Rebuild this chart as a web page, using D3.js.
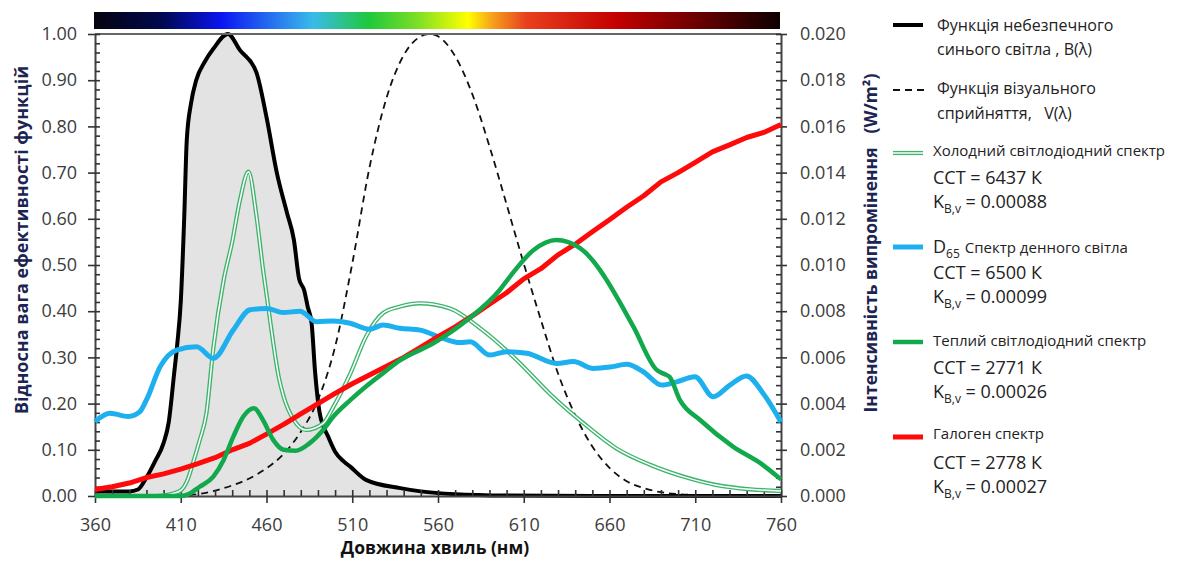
<!DOCTYPE html>
<html><head><meta charset="utf-8">
<script src="https://cdn.jsdelivr.net/npm/d3@7"></script>
<style>
html,body{margin:0;padding:0;background:#fff;}
svg{display:block;font-family:"Open Sans",sans-serif;}
</style></head>
<body>
<svg id="chart" width="1187" height="561"></svg>
<script>
// ---------- DATA ----------
// Blue-light hazard function B(λ), relative (left axis)
const hazardB = [[360,0.01],[380,0.01],[385,0.014],[390,0.04],[395,0.075],[400,0.115],[403,0.16],[406,0.26],[408,0.33],[410,0.42],[412,0.6],[413.5,0.77],[416,0.85],[419,0.9],[424,0.94],[429,0.968],[437.5,1.0],[444.5,0.965],[454,0.918],[460,0.82],[466,0.70],[472,0.612],[476,0.554],[479,0.47],[482,0.445],[484,0.41],[486.3,0.374],[488.3,0.27],[491,0.18],[496,0.128],[500,0.096],[505,0.075],[509,0.063],[518,0.035],[538,0.017],[550,0.01],[570,0.004],[600,0.001],[650,0],[760,0]];
// Photopic visual function V(λ), relative (left axis)
const visualV = [[380,0.00004],[390,0.00012],[400,0.0004],[410,0.0012],[420,0.004],[430,0.0116],[440,0.023],[450,0.038],[460,0.06],[470,0.091],[480,0.139],[490,0.208],[500,0.323],[510,0.503],[520,0.71],[530,0.862],[540,0.954],[550,0.995],[555,1.0],[560,0.995],[570,0.952],[580,0.87],[590,0.757],[600,0.631],[610,0.503],[620,0.381],[630,0.265],[640,0.175],[650,0.107],[660,0.061],[670,0.032],[680,0.017],[690,0.0082],[700,0.0041],[710,0.0021],[720,0.00105],[730,0.00052],[740,0.00025],[750,0.00012],[760,0.00006]];
// Spectra, W/m² (right axis)
const coldLED = [[360,0],[395,0],[405,0.0001],[410,0.00024],[414,0.0007],[417,0.0014],[421,0.0024],[425,0.0036],[429,0.0064],[435,0.00934],[440,0.011],[444.5,0.0128],[449.5,0.01404],[454,0.0122],[458,0.0098],[461,0.0082],[464,0.0066],[467,0.0052],[470,0.0043],[476,0.00328],[483,0.00286],[493,0.00314],[499,0.00386],[509,0.00532],[518,0.0069],[528,0.00792],[538,0.0082],[549,0.00834],[567,0.00812],[586,0.00718],[606,0.00588],[625,0.00444],[645,0.00314],[664,0.00206],[684,0.00134],[703,0.00084],[722,0.00048],[742,0.00029],[760,0.00022]];
const daylightD65 = [[360,0.00322],[368.7,0.00358],[379.4,0.00344],[386,0.00364],[390,0.00416],[398,0.0056],[407.6,0.00632],[419.3,0.00646],[429,0.00596],[440.6,0.00718],[450.4,0.00806],[460,0.00812],[469.8,0.00794],[479.5,0.008],[489.3,0.00754],[499,0.00758],[508.7,0.00748],[520,0.00722],[528,0.0074],[537.8,0.00726],[549.5,0.00718],[563,0.00682],[572.8,0.00664],[578.7,0.00668],[590.3,0.0061],[600,0.00624],[611.7,0.00618],[629.2,0.00574],[639,0.00582],[650.6,0.00552],[660.3,0.00558],[670,0.0057],[679.7,0.00538],[690.4,0.0048],[699.1,0.00494],[709.8,0.00516],[720.5,0.0043],[730.2,0.0048],[739.9,0.0052],[749.6,0.00444],[760,0.0032]];
const warmLED = [[360,0],[410,0],[415,0.0001],[421,0.0004],[429,0.00084],[435,0.00156],[440.6,0.00256],[446.5,0.00344],[452.7,0.0038],[458,0.00328],[464,0.00242],[470,0.002],[477,0.00196],[485,0.00228],[493,0.00286],[499,0.00344],[509,0.00416],[518,0.00474],[528,0.00532],[538,0.00588],[557,0.0066],[577,0.00762],[596,0.00892],[602,0.0095],[615.6,0.01064],[629,0.01108],[643,0.01072],[654.5,0.00978],[658.4,0.00934],[674,0.00732],[687.5,0.00546],[692,0.00528],[695,0.00516],[701,0.00416],[713,0.00328],[732,0.00214],[748,0.00142],[760,0.00072]];
const halogen = [[360,0.00028],[370,0.0004],[380,0.00056],[390,0.0008],[400,0.00096],[410,0.00116],[420,0.0014],[430,0.00166],[440,0.002],[450,0.00228],[460,0.00268],[470,0.0031],[480,0.00356],[490,0.004],[500,0.00444],[510,0.00486],[520,0.00524],[530,0.00562],[540,0.006],[550,0.00644],[560,0.0069],[570,0.00732],[580,0.0078],[590,0.0083],[600,0.0088],[610,0.0094],[620,0.00984],[630,0.01044],[640,0.0109],[650,0.01144],[660,0.01196],[670,0.0125],[680,0.013],[690,0.0136],[700,0.014],[710,0.01444],[720,0.0149],[730,0.0152],[740,0.01552],[750,0.01574],[760,0.01608]];

const xTickValues = [360,410,460,510,560,610,660,710,760];
const leftTickValues = [0,0.1,0.2,0.3,0.4,0.5,0.6,0.7,0.8,0.9,1.0];
const rightTickValues = [0,0.002,0.004,0.006,0.008,0.010,0.012,0.014,0.016,0.018,0.020];

const xTitle = "Довжина хвиль (нм)";
const leftTitle = "Відносна вага ефективності функцій";
const rightTitleMain = "Інтенсивність випромінення";
const rightTitleUnit = "(W/m²)";

const legendNames = ["Холодний світлодіодний спектр","Спектр денного світла","Теплий світлодіодний спектр","Галоген спектр"];
const legendCCT = ["6437","6500","2771","2778"];
const legendK = ["0.00088","0.00099","0.00026","0.00027"];

// ---------- LAYOUT ----------
const L = 95, R = 781, T = 34, B = 496;
const svg = d3.select("#chart");
const x = d3.scaleLinear().domain([360,760]).range([L,R]);
const yL = d3.scaleLinear().domain([0,1]).range([B,T]);
const yR = d3.scaleLinear().domain([0,0.02]).range([B,T]);

// colour bar
const defs = svg.append("defs");
const grad = defs.append("linearGradient").attr("id","spec").attr("x1","0%").attr("x2","100%");
[[0,"#05040f"],[0.1,"#000850"],[0.185,"#0a14f0"],[0.27,"#2a7ef0"],[0.32,"#38bce8"],[0.4,"#1ec83c"],[0.47,"#7ade26"],[0.545,"#ffff00"],[0.58,"#f6a21c"],[0.63,"#e8401e"],[0.76,"#c40000"],[0.88,"#6a0000"],[1,"#0c0000"]]
  .forEach(s=>grad.append("stop").attr("offset",s[0]).attr("stop-color",s[1]));
svg.append("rect").attr("x",x(360)-1).attr("y",12).attr("width",x(760)-x(360)).attr("height",17).attr("fill","url(#spec)");

// fill under B
const g = svg.append("g");
g.append("path").datum(hazardB)
  .attr("d",d3.area().x(d=>x(d[0])).y0(yL(0)).y1(d=>yL(d[1])).curve(d3.curveMonotoneX))
  .attr("fill","#e3e3e3");

// top border
svg.append("line").attr("x1",L).attr("x2",R).attr("y1",T).attr("y2",T).attr("stroke","#666").attr("stroke-width",2);

// axes
const tickFont = g2=>g2.selectAll("text").attr("font-family","Open Sans").attr("font-size",18).attr("fill","#3c3c3c");
const axL = svg.append("g").attr("transform",`translate(${L},0)`)
  .call(d3.axisLeft(yL).tickValues(leftTickValues).tickFormat(d3.format(".2f")).tickSizeInner(7).tickSizeOuter(0).tickPadding(11));
axL.call(tickFont);
svg.append("g").attr("transform",`translate(${L},0)`)
  .call(d3.axisLeft(yL).tickValues(d3.range(0,1.0001,0.02)).tickFormat("").tickSizeInner(-5).tickSizeOuter(0))
  .select(".domain").remove();
const axR = svg.append("g").attr("transform",`translate(${R},0)`)
  .call(d3.axisRight(yR).tickValues(rightTickValues).tickFormat(d3.format(".3f")).tickSizeInner(6).tickSizeOuter(0).tickPadding(13));
axR.call(tickFont);
svg.append("g").attr("transform",`translate(${R},0)`)
  .call(d3.axisRight(yR).tickValues(d3.range(0,0.02001,0.0004)).tickFormat("").tickSizeInner(-5).tickSizeOuter(0))
  .select(".domain").remove();
const axB = svg.append("g").attr("transform",`translate(0,${B})`)
  .call(d3.axisBottom(x).tickValues(xTickValues).tickFormat(d3.format("d")).tickSizeInner(7).tickSizeOuter(0).tickPadding(15));
axB.call(tickFont);
svg.append("g").attr("transform",`translate(0,${B})`)
  .call(d3.axisBottom(x).tickValues(d3.range(360,761,10)).tickFormat("").tickSizeInner(-6).tickSizeOuter(0))
  .select(".domain").remove();
svg.selectAll(".tick line").attr("stroke","#333").attr("stroke-width",1.6);
svg.selectAll(".domain").attr("stroke","#444").attr("stroke-width",2);

// curves
const lineL = d3.line().x(d=>x(d[0])).y(d=>yL(d[1])).curve(d3.curveMonotoneX);
const lineR = d3.line().x(d=>x(d[0])).y(d=>yR(d[1])).curve(d3.curveMonotoneX);
const lineRlin = d3.line().x(d=>x(d[0])).y(d=>yR(d[1]));

g.append("path").datum(visualV).attr("d",lineL).attr("fill","none").attr("stroke","#111").attr("stroke-width",1.8).attr("stroke-dasharray","7,5");
g.append("path").datum(hazardB).attr("d",lineL).attr("fill","none").attr("stroke","#000").attr("stroke-width",4).attr("stroke-linejoin","round");
svg.append("g").append("path").datum(coldLED).attr("d",lineR).attr("fill","none").attr("stroke","#3cb46c").attr("stroke-width",4.2);
svg.append("g").append("path").datum(coldLED).attr("d",lineR).attr("fill","none").attr("stroke","#fff").attr("stroke-width",1.5);
svg.append("path").datum(daylightD65).attr("d",lineR).attr("fill","none").attr("stroke","#1eb0ee").attr("stroke-width",5).attr("stroke-linejoin","round");
svg.append("path").datum(halogen).attr("d",lineRlin).attr("fill","none").attr("stroke","#ff0a0a").attr("stroke-width",5).attr("stroke-linejoin","round");
svg.append("path").datum(warmLED).attr("d",lineR).attr("fill","none").attr("stroke","#12a84c").attr("stroke-width",4.5).attr("stroke-linejoin","round");

// axis titles
svg.append("text").attr("x",435).attr("y",554).attr("text-anchor","middle")
  .attr("font-size",17.5).attr("font-weight","bold").attr("fill","#111").text(xTitle);
svg.append("text").attr("transform","translate(28,240) rotate(-90)").attr("text-anchor","middle")
  .attr("font-size",18).attr("font-weight","bold").attr("fill","#1c2452").text(leftTitle);
const rt = svg.append("text").attr("transform","translate(877,243) rotate(-90)").attr("text-anchor","middle")
  .attr("font-size",17.5).attr("font-weight","bold").attr("fill","#1c2452");
rt.append("tspan").text(rightTitleMain);
rt.append("tspan").attr("dx",14).text(rightTitleUnit);

// legend
const lg = svg.append("g");
const lx1 = 893, lx2 = 923, tx = 933;
lg.append("line").attr("x1",lx1).attr("x2",lx2).attr("y1",25).attr("y2",25).attr("stroke","#000").attr("stroke-width",4);
lg.append("text").attr("x",tx+4).attr("y",31).attr("font-size",16).attr("fill","#222").text("Функція небезпечного");
lg.append("text").attr("x",tx+4).attr("y",55).attr("font-size",16).attr("fill","#222").text("синього світла , B(λ)");
lg.append("line").attr("x1",lx1).attr("x2",lx2+2).attr("y1",90).attr("y2",90).attr("stroke","#111").attr("stroke-width",1.8).attr("stroke-dasharray","7,5");
lg.append("text").attr("x",tx+4).attr("y",94).attr("font-size",16).attr("fill","#222").text("Функція візуального");
lg.append("text").attr("x",tx+4).attr("y",119).attr("font-size",16).attr("fill","#222").attr("xml:space","preserve").text("сприйняття,   V(λ)");

const itemY = [153,247,342,437];
const sampleStyle = [
  {c:"#3cb46c",w:4.2,dbl:true},{c:"#1eb0ee",w:5},{c:"#12a84c",w:4.5},{c:"#ff0a0a",w:5}
];
const nameY = [156,253,346,439], cctY = [184,279,374,469], kY = [208,303,398,493];
legendNames.forEach((n,i)=>{
  const s = sampleStyle[i];
  lg.append("line").attr("x1",lx1).attr("x2",lx2).attr("y1",itemY[i]).attr("y2",itemY[i]).attr("stroke",s.c).attr("stroke-width",s.w);
  if(s.dbl) lg.append("line").attr("x1",lx1).attr("x2",lx2).attr("y1",itemY[i]).attr("y2",itemY[i]).attr("stroke","#fff").attr("stroke-width",1.5);
  const t = lg.append("text").attr("x",tx).attr("y",nameY[i]).attr("font-size",15).attr("fill","#222");
  if(i===1){
    t.append("tspan").attr("font-size",18).text("D");
    t.append("tspan").attr("font-size",12).attr("dy",5).text("65");
    t.append("tspan").attr("dy",-5).attr("dx",5).text(n);
  } else t.text(n);
  lg.append("text").attr("x",tx).attr("y",cctY[i]).attr("font-size",18).attr("fill","#222").text(`ССТ = ${legendCCT[i]} К`);
  const k = lg.append("text").attr("x",tx).attr("y",kY[i]).attr("font-size",18).attr("fill","#222");
  k.append("tspan").text("K");
  k.append("tspan").attr("font-size",12).attr("dy",5).text("B,v");
  k.append("tspan").attr("dy",-5).text(` = ${legendK[i]}`);
});
</script>
</body></html>
